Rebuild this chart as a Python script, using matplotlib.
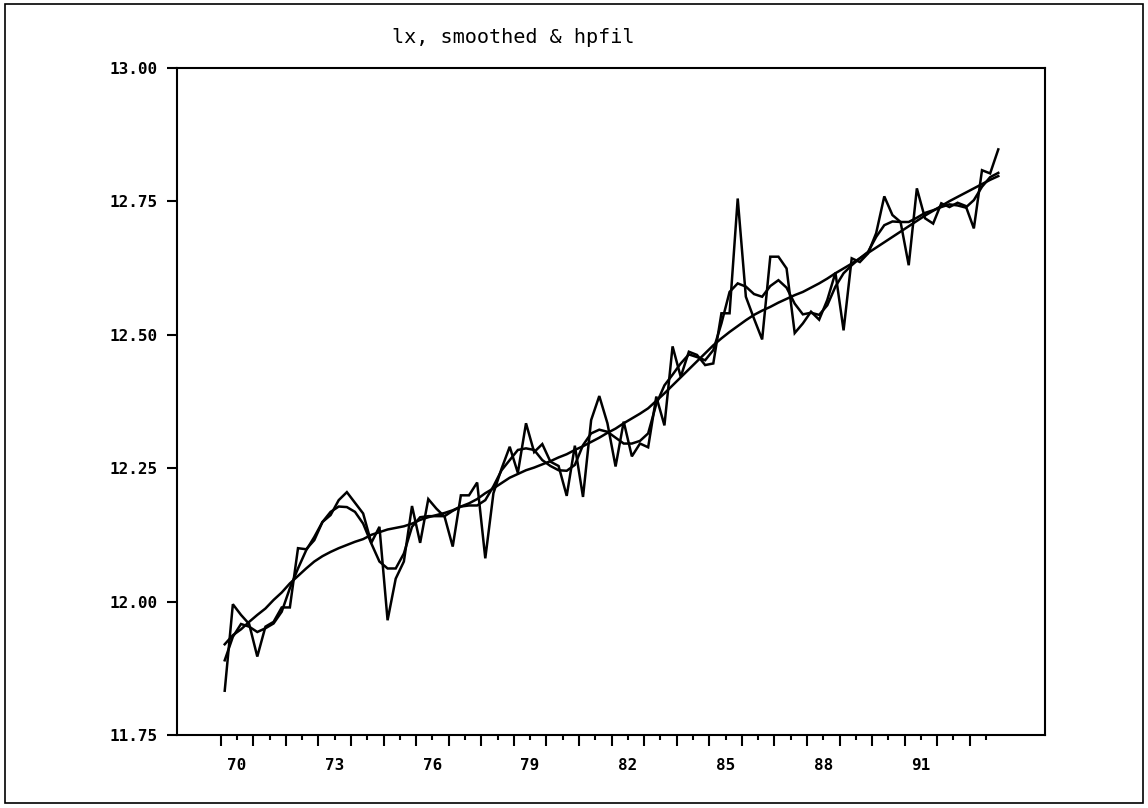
import numpy as np
import pandas as pd
import matplotlib
matplotlib.use("Agg")
import matplotlib.pyplot as plt
from matplotlib.patches import Rectangle
from matplotlib.ticker import FixedLocator, FixedFormatter, StrMethodFormatter

# quarterly sample 1970Q1 - 1993Q4, plotted at mid-quarter
quarters = pd.period_range("1970Q1", "1993Q4", freq="Q")
t = quarters.year + (quarters.quarter - 0.5) / 4

lx = [
    11.833, 11.995, 11.975, 11.958, 11.897, 11.953, 11.962, 11.989, 11.989, 12.100,
    12.098, 12.115, 12.149, 12.162, 12.190, 12.205, 12.185, 12.165, 12.110, 12.140,
    11.965, 12.043, 12.075, 12.179, 12.110, 12.192, 12.174, 12.159, 12.103, 12.199,
    12.199, 12.223, 12.081, 12.203, 12.249, 12.290, 12.241, 12.334, 12.280, 12.295,
    12.262, 12.254, 12.198, 12.292, 12.196, 12.340, 12.385, 12.334, 12.253, 12.337,
    12.272, 12.296, 12.289, 12.384, 12.330, 12.478, 12.421, 12.468, 12.462, 12.443,
    12.446, 12.540, 12.540, 12.755, 12.571, 12.530, 12.491, 12.646, 12.646, 12.624,
    12.503, 12.521, 12.543, 12.528, 12.565, 12.616, 12.508, 12.643, 12.636, 12.652,
    12.690, 12.759, 12.724, 12.711, 12.630, 12.774, 12.718, 12.708, 12.746, 12.739,
    12.747, 12.741, 12.699, 12.808, 12.802, 12.847,
]

smoothed = [
    11.890, 11.934, 11.958, 11.953, 11.943, 11.950, 11.959, 11.981, 12.025, 12.062,
    12.096, 12.121, 12.149, 12.168, 12.178, 12.177, 12.168, 12.146, 12.109, 12.075,
    12.062, 12.062, 12.090, 12.140, 12.158, 12.160, 12.160, 12.160, 12.170, 12.178,
    12.180, 12.180, 12.190, 12.216, 12.246, 12.265, 12.284, 12.287, 12.284, 12.265,
    12.254, 12.246, 12.245, 12.256, 12.293, 12.315, 12.322, 12.318, 12.307, 12.296,
    12.296, 12.301, 12.315, 12.370, 12.405, 12.425, 12.446, 12.463, 12.458, 12.452,
    12.471, 12.521, 12.580, 12.596, 12.590, 12.576, 12.571, 12.591, 12.602, 12.588,
    12.558, 12.538, 12.541, 12.537, 12.555, 12.590, 12.615, 12.630, 12.643, 12.655,
    12.683, 12.705, 12.712, 12.711, 12.711, 12.719, 12.728, 12.733, 12.739, 12.744,
    12.742, 12.738, 12.752, 12.777, 12.795, 12.803,
]

hpfil = [
    11.920, 11.937, 11.948, 11.962, 11.975, 11.987, 12.003, 12.017, 12.034, 12.048,
    12.062, 12.075, 12.085, 12.093, 12.100, 12.106, 12.112, 12.117, 12.125, 12.130,
    12.135, 12.138, 12.141, 12.146, 12.153, 12.158, 12.162, 12.166, 12.171, 12.178,
    12.184, 12.192, 12.203, 12.212, 12.222, 12.232, 12.239, 12.246, 12.251, 12.257,
    12.263, 12.270, 12.276, 12.284, 12.291, 12.299, 12.307, 12.316, 12.324, 12.334,
    12.343, 12.352, 12.362, 12.376, 12.390, 12.405, 12.420, 12.435, 12.450, 12.465,
    12.480, 12.493, 12.505, 12.516, 12.527, 12.537, 12.545, 12.552, 12.560, 12.567,
    12.574, 12.580, 12.588, 12.596, 12.605, 12.615, 12.624, 12.633, 12.643, 12.653,
    12.663, 12.673, 12.683, 12.693, 12.703, 12.713, 12.723, 12.732, 12.741, 12.750,
    12.758, 12.766, 12.774, 12.782, 12.790, 12.797,
]

label_years = [70, 73, 76, 79, 82, 85, 88, 91]
yticks = [11.75, 12.00, 12.25, 12.50, 12.75, 13.00]

fig = plt.figure(figsize=(11.48, 8.08), dpi=100)
ax = fig.add_axes([0.1539, 0.0903, 0.7564, 0.8259])

for series in (hpfil, smoothed, lx):
    ax.plot(t, series, color="black", lw=1.8, solid_joinstyle="miter")

ax.set_xlim(1968.65, 1995.31)
ax.set_ylim(11.75, 13.0)

# long ticks at each year, short ticks mid-year carrying the labels
years = np.arange(1970, 1994)
ax.xaxis.set_major_locator(FixedLocator(years))
ax.xaxis.set_major_formatter(FixedFormatter([""] * len(years)))
mids = years + 0.5
ax.xaxis.set_minor_locator(FixedLocator(mids))
ax.xaxis.set_minor_formatter(FixedFormatter(
    [f"{y % 100:02d}" if (y % 100) in label_years else "" for y in years]))
ax.tick_params(axis="x", which="major", length=8, width=1.5, direction="out")
ax.tick_params(axis="x", which="minor", length=3.6, width=1.5, direction="out",
               pad=13, labelsize=11.5)

ax.yaxis.set_major_locator(FixedLocator(yticks))
ax.yaxis.set_major_formatter(StrMethodFormatter("{x:.2f}"))
ax.tick_params(axis="y", length=7.5, width=1.5, pad=6.5, labelsize=11.5)

for lab in ax.get_xticklabels(minor=True) + ax.get_yticklabels():
    lab.set_fontfamily("DejaVu Sans Mono")
    lab.set_fontweight("bold")

for sp in ax.spines.values():
    sp.set_linewidth(1.5)

fig.text(0.447, 0.953, "lx, smoothed & hpfil", ha="center", va="center",
         fontsize=14.5, family="DejaVu Sans Mono")

# frame around the whole page
fig.patches.append(Rectangle((0.0045, 0.006), 0.991, 0.989, transform=fig.transFigure,
                             fill=False, lw=1.2, edgecolor="black"))

fig.savefig("out.png", dpi=100)
